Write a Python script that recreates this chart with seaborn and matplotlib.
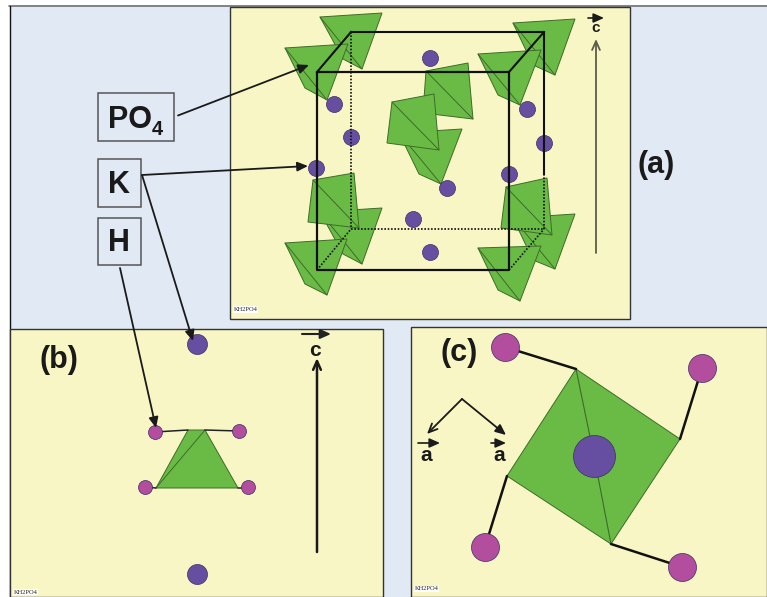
import matplotlib
matplotlib.use("Agg")
import matplotlib.pyplot as plt
from matplotlib.patches import Polygon, Rectangle
import pandas as pd
import seaborn as sns

sns.set_theme(style="white")
plt.rcParams['font.family'] = ['Liberation Sans', 'DejaVu Sans']

BG = '#E1E9F5'; PANEL = '#F8F6C4'; GREEN = '#6ABB45'; PURPLE = '#664FA0'; PINK = '#B34E9F'
EDGE = '#3E6B2A'

panels = [(230, 6.5, 400, 312), (10, 329, 373, 268), (411, 327, 356, 270)]

# tetrahedra in panel (a), back to front: four outline corners, then the inner edge
tet_a = [
    ([(320,17),(382,13),(362,69),(343,59)], [(320,17),(362,69)]),
    ([(285,48),(348,44),(327,100),(305,88)], [(285,48),(327,100)]),
    ([(513,23),(575,19),(555,75),(533,65)], [(513,23),(555,75)]),
    ([(478,54),(541,50),(520,105),(498,95)], [(478,54),(520,105)]),
    ([(426,71),(468,63),(473,119),(423,113)], [(426,71),(473,119)]),
    ([(399,133),(462,129),(441,184),(419,174)], [(399,133),(441,184)]),
    ([(392,102),(434,94),(439,150),(387,143)], [(392,102),(439,150)]),
    ([(320,212),(382,208),(362,264),(343,254)], [(320,212),(362,264)]),
    ([(313,180),(354,173),(359,228),(308,222)], [(313,180),(359,228)]),
    ([(285,243),(347,239),(327,295),(305,284)], [(285,243),(327,295)]),
    ([(513,218),(575,214),(555,269),(533,260)], [(513,218),(555,269)]),
    ([(506,187),(547,178),(552,235),(501,228)], [(506,187),(552,235)]),
    ([(478,248),(541,246),(520,301),(498,290)], [(478,248),(520,301)]),
]
tet_b = [(188,430),(205,430),(238,488),(156,488)]
tet_b_edge = [(156,488),(205,430)]
tet_c = [(576,369),(680,439),(611,544),(507,476)]
tet_c_edges = [[(576,369),(594,456)], [(611,544),(594,456)]]

k_x = [430,334,351,527,544,316,509,447,413,430,197,197,594]
k_y = [58,104,137,109,143,168,174,188,219,252,344,574,456]
k_r = [8,8,8,8,8,8,8,8,8,8,10,10,21]
h_x = [155,239,145,248,505,702,485,682]
h_y = [432,431,487,487,347,368,547,567]
h_r = [7,7,7,7,14,14,14,14]

cell_solid = [[(351,32),(544,32),(544,174)], [(317,72),(351,32)], [(509,72),(544,32)]]
cell_front = [(317,72),(509,72),(509,270),(317,270),(317,72)]
cell_dotted = [[(351,32),(351,229)], [(351,229),(544,229)], [(544,174),(544,229)],
               [(317,270),(351,229)], [(509,270),(544,229)]]

bonds_thin = [[(155,432),(188,430)], [(205,430),(239,431)], [(145,487),(156,488)], [(238,488),(248,488)]]
bonds_thick = [[(505,347),(576,369)], [(680,439),(702,368)], [(507,476),(485,547)], [(611,544),(682,567)]]

arrows = [((178,115.5),(309,65),1.3,'k','-|>'), ((142,175),(308,166),1.3,'k','-|>'),
          ((142,175),(193,341),1.3,'k','-|>'), ((120,268),(156,428),1.3,'k','-|>'),
          ((596,253),(596,39),1.3,'#5C5C48','->'), ((588,18),(604,18),1.2,'k','-|>'),
          ((317,552),(317,358),1.8,'k','->'), ((302,334),(331,334),1.5,'#222222','-|>'),
          ((462,399),(427,434),1.3,'k','->'), ((462,399),(506,435),1.3,'k','-|>'),
          ((418,443),(440,443),1.2,'k','-|>'), ((491,443),(506,443),1.2,'k','-|>')]
boxes = [(98,93,76,48), (98,159,42.5,47.5), (98,217.5,42.5,47.5)]
box_labels = [(108,128,'PO',22), (152,135,'4',14.5), (119,193,'K',22), (119,251,'H',22)]
big_labels = [(656.5,165,'(a)'), (59,360,'(b)'), (459.5,353,'(c)')]
axis_labels = [(596,32,'c',11), (315,356,'c',15), (426,461,'a',15), (499,461,'a',15)]
stamps = [(234,309.5), (14,592), (415,589)]

fig = plt.figure(figsize=(7.67, 5.97), dpi=100, facecolor='white')
ax = fig.add_axes([0, 0, 1, 1])

ax.add_patch(Rectangle((10, 6), 757, 591, fc=BG, ec='none', zorder=0))
ax.plot([9, 767], [5.5, 5.5], color='#6E6E6E', lw=1.2, zorder=0.5)
ax.plot([9.5, 9.5], [6, 597], color='#111111', lw=1.0, zorder=0.5)
for x, y, w, h in panels:
    ax.add_patch(Rectangle((x, y), w, h, fc=PANEL, ec='#333333', lw=1.0, zorder=1))

for outline, edge in tet_a:
    ax.add_patch(Polygon(outline, closed=True, fc=GREEN, ec=EDGE, lw=0.7, zorder=2))
    ax.plot(*zip(*edge), color=EDGE, lw=0.7, zorder=2)
ax.add_patch(Polygon(tet_b, closed=True, fc=GREEN, ec=EDGE, lw=0.7, zorder=2))
ax.plot(*zip(*tet_b_edge), color=EDGE, lw=0.7, zorder=2)
ax.add_patch(Polygon(tet_c, closed=True, fc=GREEN, ec=EDGE, lw=0.7, zorder=2))
for e in tet_c_edges:
    ax.plot(*zip(*e), color=EDGE, lw=0.8, zorder=2)

for seg in bonds_thin:
    ax.plot(*zip(*seg), color='#222222', lw=1.1, zorder=2.5)
for seg in bonds_thick:
    ax.plot(*zip(*seg), color='#111111', lw=1.8, zorder=2.5)

for xs, ys, rs, col in [(k_x, k_y, k_r, PURPLE), (h_x, h_y, h_r, PINK)]:
    df = pd.DataFrame({'x': xs, 'y': ys, 'r': rs})
    for r, g in df.groupby('r'):
        sns.scatterplot(data=g, x='x', y='y', ax=ax, color=col, s=(2 * r * 0.72) ** 2,
                        edgecolor='#3A2E66', linewidth=0.5, legend=False, zorder=3)

for seg in cell_solid:
    ax.plot(*zip(*seg), color='#111111', lw=1.5, zorder=4, solid_capstyle='projecting')
ax.plot(*zip(*cell_front), color='#111111', lw=1.6, zorder=4)
for seg in cell_dotted:
    ax.plot(*zip(*seg), color='#111111', lw=1.2, ls=(0, (1, 1)), zorder=4)

for x, y, w, h in boxes:
    ax.add_patch(Rectangle((x, y), w, h, fc=BG, ec='#555555', lw=1.1, zorder=5))
for i, (x, y, s, fs) in enumerate(box_labels):
    ax.text(x, y, s, fontsize=fs, fontweight='bold', ha='left' if i < 2 else 'center', va='baseline',
            color='k', zorder=6)
for x, y, s in big_labels:
    ax.text(x, y, s, fontsize=22, fontweight='bold', ha='center', va='center', color='k', zorder=6)
for x, y, s, fs in axis_labels:
    ax.text(x, y, s, fontsize=fs, fontweight='bold', ha='center', va='baseline', color='k', zorder=6)
for x, y in stamps:
    ax.text(x, y, 'KH2PO4', fontsize=4.6, family='Liberation Serif', ha='left', va='center', color='#222222',
            zorder=6, bbox=dict(fc='white', ec='none', pad=0.4))

for p0, p1, lw, col, style in arrows:
    ax.annotate('', xy=p1, xytext=p0, zorder=7,
                arrowprops=dict(arrowstyle=style + ',head_length=0.45,head_width=0.2', color=col, lw=lw,
                                shrinkA=0, shrinkB=0, mutation_scale=14))

ax.set_xlim(0, 767); ax.set_ylim(597, 0); ax.axis('off')
fig.savefig('out.png', dpi=100, facecolor='white')
